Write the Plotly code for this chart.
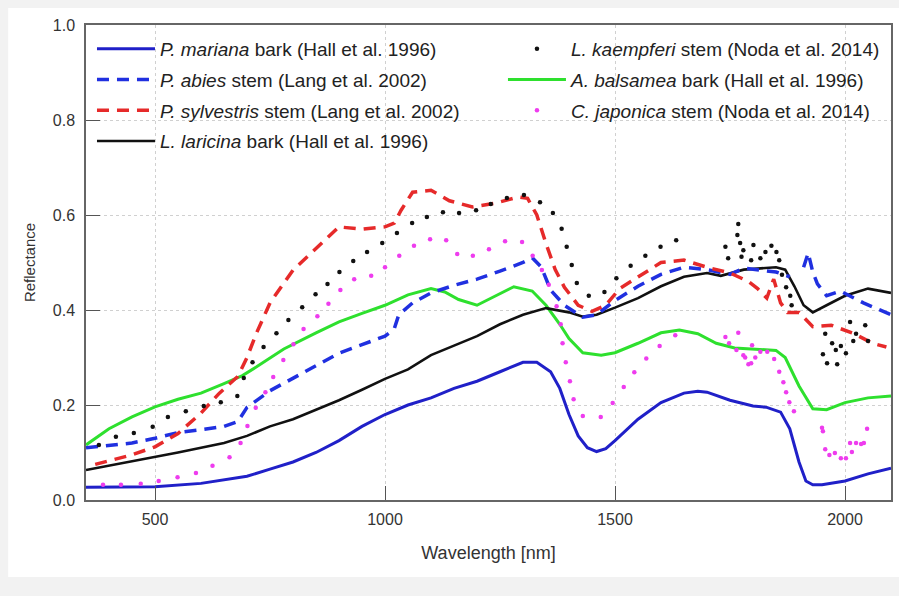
import plotly.graph_objects as go

# ---------------- data ----------------
mariana_wl = [350,400,500,600,650,700,750,800,850,900,950,1000,1050,1100,1150,1200,1250,1300,1330,1360,1380,1400,1420,1440,1460,1480,1500,1550,1600,1650,1680,1700,1750,1800,1830,1860,1880,1900,1915,1930,1950,2000,2050,2100]
mariana_r = [0.027,0.027,0.028,0.035,0.042,0.05,0.065,0.08,0.1,0.125,0.155,0.18,0.2,0.215,0.235,0.25,0.27,0.29,0.29,0.27,0.235,0.18,0.135,0.11,0.102,0.108,0.125,0.17,0.205,0.225,0.229,0.227,0.21,0.198,0.195,0.185,0.15,0.08,0.04,0.032,0.032,0.04,0.055,0.067]

abies_wl = [350,400,450,500,550,600,650,680,700,750,800,850,900,950,1000,1020,1030,1060,1100,1150,1200,1250,1300,1320,1340,1360,1390,1430,1460,1500,1550,1600,1650,1700,1750,1780,1850,1880,None,1910,1920,1930,1940,1960,1990,2040,2100]
abies_r = [0.11,0.115,0.12,0.13,0.142,0.148,0.155,0.165,0.195,0.23,0.257,0.284,0.309,0.327,0.345,0.36,0.39,0.415,0.436,0.452,0.465,0.482,0.5,0.51,0.49,0.442,0.41,0.385,0.39,0.42,0.45,0.475,0.49,0.485,0.475,0.488,0.48,0.47,None,0.49,0.52,0.48,0.455,0.43,0.44,0.415,0.39]

sylv_wl = [370,400,450,500,550,600,640,680,700,720,750,800,850,900,950,1000,1020,1035,1060,1100,1140,1190,1240,1290,1310,1330,1350,1370,1390,1420,1450,1480,1510,1550,1600,1650,1700,1750,1790,1810,1830,1845,1860,1875,1900,1930,1970,2020,2060,2090]
sylv_r = [0.075,0.082,0.095,0.112,0.14,0.183,0.225,0.26,0.3,0.35,0.415,0.484,0.53,0.575,0.57,0.575,0.583,0.61,0.648,0.652,0.63,0.617,0.625,0.638,0.635,0.6,0.54,0.485,0.448,0.41,0.397,0.41,0.445,0.47,0.5,0.505,0.49,0.478,0.46,0.445,0.425,0.465,0.415,0.395,0.395,0.365,0.368,0.35,0.33,0.322]

laricina_wl = [350,400,450,500,550,600,650,700,750,800,850,900,950,1000,1050,1100,1150,1200,1250,1300,1350,1400,1430,1460,1500,1550,1600,1650,1700,1730,1780,1850,1870,1890,1910,1930,1960,2000,2050,2100]
laricina_r = [0.063,0.072,0.082,0.09,0.1,0.11,0.12,0.135,0.155,0.17,0.19,0.21,0.232,0.255,0.275,0.305,0.325,0.345,0.37,0.39,0.404,0.395,0.386,0.39,0.405,0.425,0.45,0.47,0.478,0.472,0.485,0.49,0.485,0.45,0.41,0.395,0.41,0.43,0.445,0.436]

kaemp_wl = [378,415,454,495,528,567,606,643,679,693,712,736,764,790,820,849,875,901,931,961,994,1026,1059,1091,1126,1161,1198,1230,1265,1302,1337,1365,1384,1395,1406,1417,1443,1477,1503,1534,1566,1599,1633,
            1740,1746,1766,1768,1772,1775,1779,1796,1801,1816,1827,1840,1851,1857,1863,1872,1881,1884,
            1952,1957,1961,1972,1980,1983,1991,2002,2011,2018,2024,2044,2050]
kaemp_r = [0.116,0.133,0.141,0.154,0.175,0.187,0.198,0.206,0.219,0.257,0.29,0.322,0.351,0.379,0.406,0.433,0.455,0.48,0.503,0.522,0.541,0.562,0.583,0.596,0.606,0.604,0.61,0.623,0.636,0.642,0.627,0.604,0.571,0.533,0.495,0.457,0.43,0.438,0.467,0.493,0.514,0.533,0.547,
           0.533,0.509,0.558,0.581,0.541,0.512,0.526,0.505,0.537,0.509,0.522,0.535,0.522,0.505,0.474,0.448,0.43,0.41,
           0.307,0.35,0.288,0.33,0.316,0.286,0.324,0.309,0.375,0.335,0.35,0.368,0.335]

balsamea_wl = [350,400,450,500,550,600,650,690,720,780,850,900,950,1000,1050,1100,1130,1160,1200,1250,1280,1320,1350,1380,1400,1430,1470,1500,1550,1600,1640,1680,1720,1760,1800,1850,1870,1900,1930,1960,2000,2050,2100]
balsamea_r = [0.116,0.15,0.175,0.196,0.212,0.225,0.245,0.262,0.28,0.318,0.352,0.375,0.393,0.41,0.432,0.445,0.438,0.422,0.41,0.435,0.449,0.44,0.41,0.37,0.34,0.31,0.305,0.31,0.33,0.352,0.358,0.35,0.33,0.32,0.318,0.315,0.3,0.24,0.192,0.19,0.205,0.215,0.219]

japon_wl = [387,426,469,508,549,589,625,662,686,701,719,740,757,779,801,823,853,877,903,933,970,1000,1031,1063,1098,1133,1157,1191,1226,1261,1298,1321,1341,1356,1373,1382,1386,1393,1402,1410,1430,1469,1495,1519,1542,1568,1597,1631,
            1740,1748,1764,1768,1779,1783,1790,1796,1798,1805,1816,1831,1846,1857,1866,1872,1879,1889,
            1950,1952,1957,1966,1978,1991,2002,2011,2015,2024,2035,2041,2048]
japon_r = [0.032,0.032,0.034,0.04,0.048,0.057,0.072,0.09,0.12,0.156,0.194,0.227,0.259,0.295,0.328,0.36,0.387,0.413,0.442,0.465,0.472,0.49,0.514,0.535,0.549,0.547,0.518,0.514,0.528,0.545,0.543,0.514,0.484,0.453,0.408,0.37,0.33,0.29,0.25,0.212,0.177,0.175,0.204,0.238,0.269,0.298,0.324,0.347,
           0.343,0.33,0.316,0.352,0.305,0.30,0.286,0.288,0.326,0.30,0.312,0.312,0.297,0.27,0.248,0.227,0.206,0.187,
           0.152,0.145,0.107,0.095,0.099,0.088,0.088,0.12,0.101,0.12,0.118,0.12,0.15]

x_ticks = [500, 1000, 1500, 2000]
y_ticks = [0.0, 0.2, 0.4, 0.6, 0.8, 1.0]

names = {
    "mariana": "<i>P. mariana</i> bark (Hall et al. 1996)",
    "abies": "<i>P. abies</i> stem (Lang et al. 2002)",
    "sylv": "<i>P. sylvestris</i> stem (Lang et al. 2002)",
    "laricina": "<i>L. laricina</i> bark (Hall et al. 1996)",
    "kaemp": "<i>L. kaempferi</i> stem (Noda et al. 2014)",
    "balsamea": "<i>A. balsamea</i> bark (Hall et al. 1996)",
    "japon": "<i>C. japonica</i> stem (Noda et al. 2014)",
}

# ---------------- figure ----------------
fig = go.Figure()

def line_trace(x, y, name, color, dash, width, legend, rank):
    return go.Scatter(x=x, y=y, name=name, mode="lines",
                      line=dict(color=color, dash=dash, width=width),
                      legend=legend, legendgroup=name, legendrank=rank)

def dot_trace(x, y, name, color, legend, rank):
    return go.Scatter(x=x, y=y, name=name, mode="markers",
                      marker=dict(color=color, size=4.5, line=dict(width=0)),
                      legend=legend, legendgroup=name, legendrank=rank)

fig.add_trace(line_trace(balsamea_wl, balsamea_r, names["balsamea"], "#2ee02e", "solid", 3, "legend2", 6))
fig.add_trace(line_trace(laricina_wl, laricina_r, names["laricina"], "#111111", "solid", 2.6, "legend", 4))
fig.add_trace(line_trace(mariana_wl, mariana_r, names["mariana"], "#2020c8", "solid", 3, "legend", 1))
fig.add_trace(line_trace(abies_wl, abies_r, names["abies"], "#2030e0", "12px,8px", 3.5, "legend", 2))
fig.add_trace(line_trace(sylv_wl, sylv_r, names["sylv"], "#e62a2a", "12px,8px", 3.5, "legend", 3))
fig.add_trace(dot_trace(kaemp_wl, kaemp_r, names["kaemp"], "#111111", "legend2", 5))
fig.add_trace(dot_trace(japon_wl, japon_r, names["japon"], "#ee3cee", "legend2", 7))

font_family = "Liberation Sans, Arial, sans-serif"

W, H = 899, 596
ml, mr, mt, mb = 86, 6, 25, 96
pw, ph = W - ml - mr, H - mt - mb

def px_x(p):
    return (p - ml) / pw

def px_y(p):
    return (H - mb - p) / ph

fig.add_shape(type="rect", xref="paper", yref="paper",
              x0=px_x(8), x1=px_x(W + 2), y0=px_y(577), y1=px_y(8),
              fillcolor="white", line=dict(width=0), layer="below")

legend_common = dict(font=dict(family=font_family, size=19, color="#222"),
                     bgcolor="rgba(0,0,0,0)", borderwidth=0, itemwidth=58,
                     tracegroupgap=3, traceorder="grouped", yanchor="top", xanchor="left")

fig.update_layout(
    width=W, height=H,
    margin=dict(l=ml, r=mr, t=mt, b=mb),
    paper_bgcolor="#f2f2f2",
    plot_bgcolor="white",
    font=dict(family=font_family, color="#333"),
    legend=dict(x=px_x(92), y=px_y(30), **legend_common),
    legend2=dict(x=px_x(504), y=px_y(30), **legend_common),
)

fig.update_xaxes(range=[350, 2100], tickvals=x_ticks, ticktext=[str(v) for v in x_ticks],
                 showgrid=True, gridcolor="#d0d0d0", griddash="dot", gridwidth=1,
                 showline=True, linecolor="#666", linewidth=1.5, mirror=True,
                 ticks="inside", ticklen=14, tickcolor="#555", tickwidth=1,
                 ticklabelstandoff=4,
                 tickfont=dict(size=16, color="#333"), zeroline=False,
                 title=dict(text="Wavelength [nm]", font=dict(size=18, color="#333"), standoff=19))
fig.update_yaxes(range=[0, 1.0], tickvals=y_ticks, ticktext=[f"{v:.1f}" for v in y_ticks],
                 showgrid=True, gridcolor="#d0d0d0", griddash="dot", gridwidth=1,
                 showline=True, linecolor="#666", linewidth=1.5, mirror=True,
                 ticks="inside", ticklen=14, tickcolor="#555", tickwidth=1,
                 ticklabelstandoff=6,
                 tickfont=dict(size=16, color="#333"), zeroline=False,
                 title=dict(text="Reflectance", font=dict(size=15, color="#333"), standoff=14))

fig.write_html("out.html",
               config={"displayModeBar": False},
               post_script="document.body.style.margin='0';document.body.style.background='#f2f2f2';document.body.style.overflow='hidden';")
